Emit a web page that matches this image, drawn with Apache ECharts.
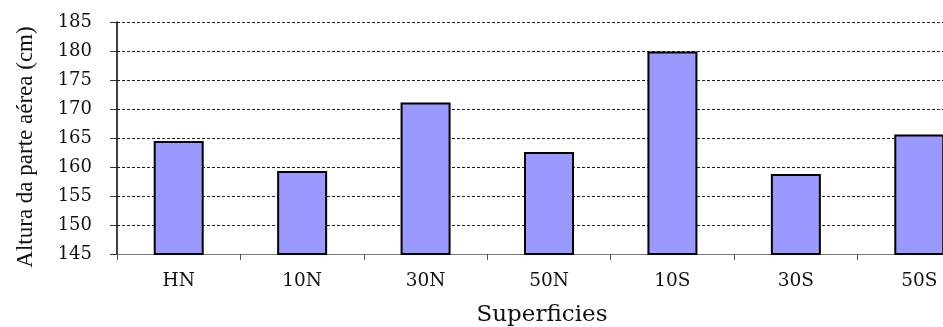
<!DOCTYPE html>
<html>
<head>
<meta charset="utf-8">
<script src="https://cdn.jsdelivr.net/npm/echarts@6/dist/echarts.min.js"></script>
<style>
html,body{margin:0;padding:0;background:#fff;overflow:hidden;}
#c{width:981px;height:327px;}
</style>
</head>
<body>
<div id="c"></div>
<script>
const categories = ["HN", "10N", "30N", "50N", "10S", "30S", "50S"];
const values = [164.5, 159.3, 171.1, 162.6, 179.9, 158.8, 165.6];
const yMin = 145, yMax = 185, yStep = 5;
const xTitle = "Superficies";
const yTitle = "Altura da parte aérea (cm)";

const serif = "'Liberation Serif', 'Times New Roman', serif";
const chart = echarts.init(document.getElementById('c'), null, {renderer: 'canvas'});
chart.setOption({
  animation: false,
  backgroundColor: '#ffffff',
  grid: {left: 117, top: 22, bottom: 73, right: 0, containLabel: false, outerBoundsMode: 'none'},
  xAxis: {
    type: 'category',
    data: categories,
    name: xTitle,
    nameLocation: 'middle',
    nameGap: 50,
    nameTextStyle: {fontFamily: 'DejaVu Serif', fontSize: 23, color: '#111', padding: [0, 14, 0, 0]},
    axisLine: {lineStyle: {color: '#777', width: 1}},
    axisTick: {show: true, length: 6, lineStyle: {color: '#555'}},
    axisLabel: {fontFamily: 'DejaVu Serif', fontSize: 18.5, color: '#111', margin: 18},
    splitLine: {show: false}
  },
  yAxis: {
    type: 'value',
    min: yMin, max: yMax, interval: yStep,
    name: yTitle,
    nameLocation: 'middle',
    nameRotate: 90,
    nameGap: 80,
    nameTextStyle: {fontFamily: serif, fontSize: 23, color: '#111', padding: [0, 18, 0, 0]},
    axisLine: {show: true, lineStyle: {color: '#000', width: 1.5}},
    axisTick: {show: true, length: 7, lineStyle: {color: '#333'}},
    axisLabel: {fontFamily: 'DejaVu Serif', fontSize: 18, color: '#111', margin: 25},
    splitLine: {show: true, lineStyle: {color: '#222', type: [3, 2], width: 1}}
  },
  series: [{
    type: 'bar',
    data: values,
    barWidth: 50,
    itemStyle: {color: '#9999FF', borderColor: '#000', borderWidth: 2}
  }]
});
</script>
</body>
</html>
